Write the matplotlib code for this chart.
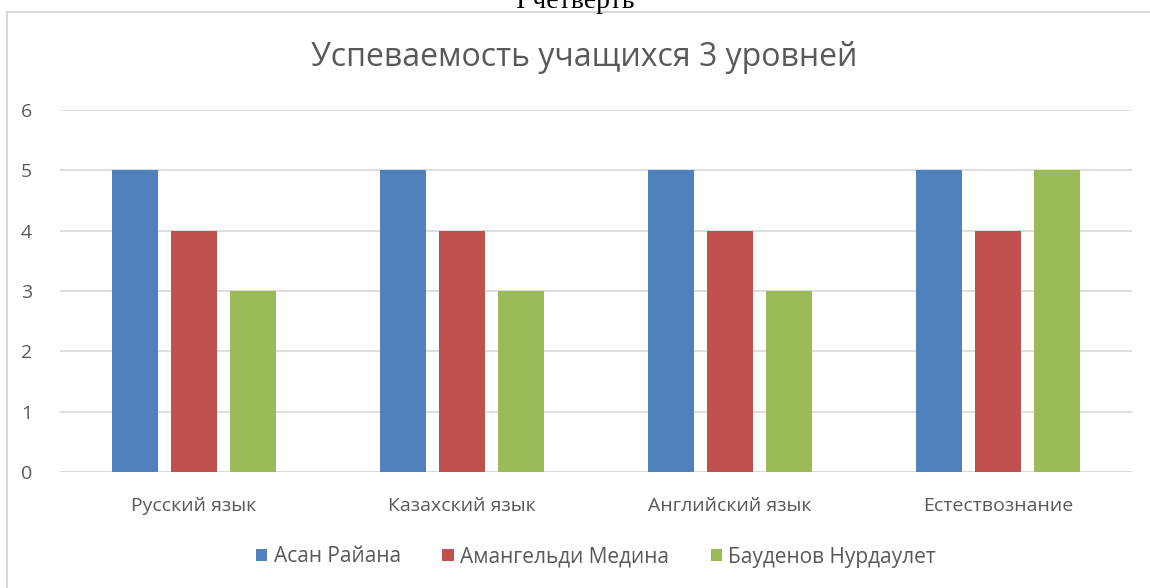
import matplotlib.pyplot as plt
from matplotlib.patches import Rectangle
import numpy as np

plt.rcParams['font.family'] = ['Open Sans', 'DejaVu Sans']

subjects = ['Русский язык', 'Казахский язык', 'Английский язык', 'Естествознание']
students = ['Асан Райана', 'Амангельди Медина', 'Бауденов Нурдаулет']
scores = [
    [5, 5, 5, 5],
    [4, 4, 4, 4],
    [3, 3, 3, 5],
]
colors = ['#4F81BD', '#C0504D', '#9BBB59']
title = 'Успеваемость учащихся 3 уровней'

W, H = 1150, 588
fig = plt.figure(figsize=(W / 100, H / 100), dpi=100)

# chart frame (cut off on right and bottom)
fig.patches.append(Rectangle((7 / W, -0.1), 1.2, (H - 12) / H + 0.1,
                             transform=fig.transFigure, fill=False,
                             edgecolor='#D9D9D9', linewidth=1.5))
# heading of the page, cut off at the top
fig.text(0.5, 1 - 2 / H, 'I четверть', family=['Liberation Serif', 'DejaVu Serif'],
         fontsize=20, color='black', ha='center', va='center')

ax = fig.add_axes([60 / W, (H - 472) / H, (1132 - 60) / W, (472 - 110) / H])
x = np.arange(len(subjects))
bw = 0.172
step = 0.22
for i, (name, vals) in enumerate(zip(students, scores)):
    ax.bar(x + (i - 1) * step, vals, width=bw, color=colors[i], label=name, zorder=3)

ax.set_xlim(-0.5, 3.5)
ax.set_ylim(0, 6)
ax.set_yticks(range(7))
ax.set_xticks(x)
ax.set_xticklabels(subjects)
ax.grid(axis='y', color='#D9D9D9', linewidth=1.2, zorder=0)
for s in ax.spines.values():
    s.set_visible(False)
ax.axhline(0, color='#D9D9D9', linewidth=1.2, zorder=2)
ax.tick_params(length=0, labelsize=14, labelcolor='#595959')
ax.tick_params(axis='y', pad=20)
ax.tick_params(axis='x', pad=18)

fig.text(584 / W, 1 - 57 / H, title, fontsize=23, color='#595959', ha='center', va='center')

ax.legend(loc='center', bbox_to_anchor=(0.5, (472 - 557) / (472 - 110)), ncol=3,
          frameon=False, fontsize=15, labelcolor='#595959', handlelength=0.55,
          handleheight=0.55, handletextpad=0.3, columnspacing=2.0)

fig.savefig('out.png', dpi=100)
